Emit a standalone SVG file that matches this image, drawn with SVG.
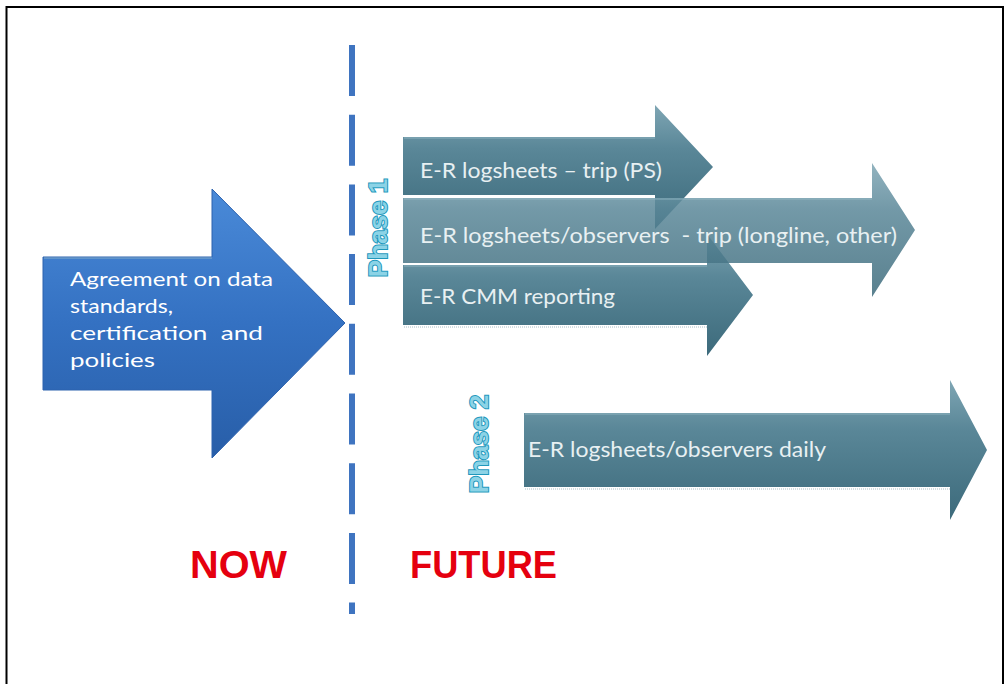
<svg xmlns="http://www.w3.org/2000/svg" width="1006" height="684" viewBox="0 0 1006 684">
  <style>
    .lbl { font-family: Lato, "Open Sans", "Liberation Sans", sans-serif; fill: #E8F0F2; font-size: 22px; }
    .lblw { font-family: Lato, "Open Sans", "Liberation Sans", sans-serif; fill: #FFFFFF; font-size: 19px; }
    .phase { font-family: "Liberation Sans", Arial, sans-serif; font-weight: bold; font-size: 26px; fill: #8CD3E6; stroke: #1F98BC; stroke-width: 2px; paint-order: stroke; text-anchor: middle; }
    .big { font-family: "Liberation Sans", Arial, sans-serif; font-weight: bold; font-size: 38px; fill: #E5000F; }
    .teal { fill: url(#gTeal); }
    .hl { fill: none; stroke: #9FC0CC; stroke-width: 1.2; stroke-opacity: 0.7; }
    .refl { fill: none; stroke: #C9D6DB; stroke-width: 2; stroke-dasharray: 1 1; stroke-opacity: 0.8; }
  </style>
  <defs>
    <linearGradient id="gBlue" x1="0" y1="0" x2="0" y2="1">
      <stop offset="0" stop-color="#4A8AD8"/>
      <stop offset="0.5" stop-color="#3471C2"/>
      <stop offset="1" stop-color="#285EA8"/>
    </linearGradient>
    <linearGradient id="gTeal" x1="0" y1="0" x2="0" y2="1">
      <stop offset="0" stop-color="#7FA6B4"/>
      <stop offset="0.35" stop-color="#5A8798"/>
      <stop offset="1" stop-color="#3C6A7B"/>
    </linearGradient>
  </defs>

  <rect x="0" y="0" width="1006" height="684" fill="#FFFFFF"/>
  <rect id="frame" x="6.5" y="7" width="996.5" height="700" fill="none" stroke="#000000" stroke-width="2"/>

  <g id="divider">
    <line x1="352" y1="45" x2="352" y2="614" stroke="#3F74C0" stroke-width="6" stroke-dasharray="51 18.7"/>
  </g>

  <g id="now-arrow">
    <path d="M43,257 H212 V189 L345,323 L212,458 V390 H43 Z" fill="url(#gBlue)" stroke="#2D62AE" stroke-width="1"/>
    <path d="M44,258 H212" class="hl" stroke="#8DB3E6"/>
    <text class="lblw" x="70" y="286" textLength="203" lengthAdjust="spacingAndGlyphs">Agreement on data</text>
    <text class="lblw" x="70" y="313" textLength="103" lengthAdjust="spacingAndGlyphs">standards,</text>
    <text class="lblw" x="70" y="340" textLength="193" lengthAdjust="spacingAndGlyphs" xml:space="preserve">certification  and</text>
    <text class="lblw" x="70" y="367" textLength="85" lengthAdjust="spacingAndGlyphs">policies</text>
  </g>

  <g id="phase1-label">
    <text class="phase" transform="translate(387,228) rotate(-90)">Phase 1</text>
  </g>

  <g id="arrow-ps">
    <path class="teal" d="M403,137 H655 V105 L713,167 L655,229 V195 H403 Z"/>
    <path class="hl" d="M404,138 H655"/>
    <text class="lbl" x="420" y="178" textLength="242" lengthAdjust="spacingAndGlyphs">E-R logsheets – trip (PS)</text>
  </g>

  <g id="arrow-cmm">
    <path class="teal" d="M403,265 H707 V234 L753,295 L707,356 V325 H403 Z"/>
    <path class="hl" d="M404,266 H707"/>
    <path class="refl" d="M404,327 H707"/>
    <text class="lbl" x="420" y="304" textLength="195" lengthAdjust="spacingAndGlyphs">E-R CMM reporting</text>
  </g>

  <g id="arrow-longline">
    <path class="teal" fill-opacity="0.85" d="M403,198 H872 V163 L915,230 L872,297 V263 H403 Z"/>
    <path class="hl" d="M404,199 H872"/>
    <text class="lbl" x="420" y="243" textLength="477" lengthAdjust="spacingAndGlyphs" xml:space="preserve">E-R logsheets/observers  - trip (longline, other)</text>
  </g>

  <g id="phase2-label">
    <text class="phase" transform="translate(488,444) rotate(-90)">Phase 2</text>
  </g>

  <g id="arrow-daily">
    <path class="teal" d="M524,413 H950 V380 L987,450 L950,520 V487 H524 Z"/>
    <path class="hl" d="M525,414 H950"/>
    <path class="refl" d="M525,489 H950"/>
    <text class="lbl" x="528" y="457" textLength="298" lengthAdjust="spacingAndGlyphs">E-R logsheets/observers daily</text>
  </g>

  <g id="now-label">
    <text class="big" x="190" y="578" textLength="97" lengthAdjust="spacingAndGlyphs">NOW</text>
  </g>
  <g id="future-label">
    <text class="big" x="410" y="578" textLength="147" lengthAdjust="spacingAndGlyphs">FUTURE</text>
  </g>
</svg>
